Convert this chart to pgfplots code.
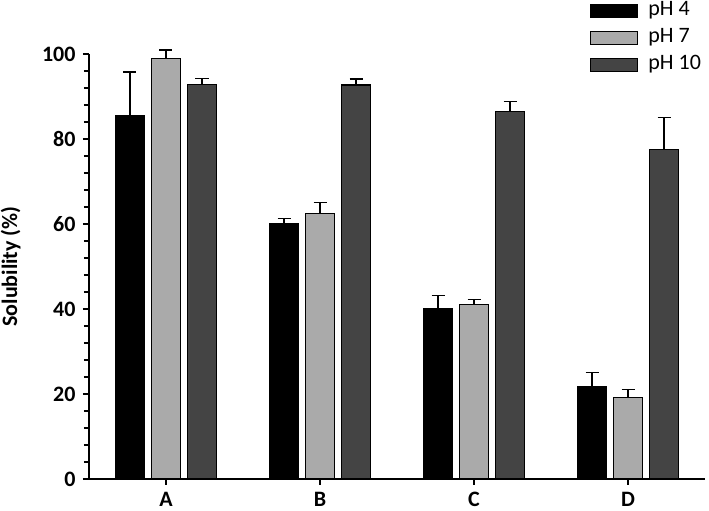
\documentclass[border=0pt]{standalone}
\usepackage{pgfplots}
\pgfplotsset{compat=1.18}
\usepackage{fontspec}
\setmainfont{Carlito}
\definecolor{lightbar}{HTML}{AAAAAA}
\definecolor{darkbar}{HTML}{444444}
\begin{document}
\begin{tikzpicture}
\begin{axis}[
  at={(0,0)}, anchor=south west,
  scale only axis, width=616pt, height=425pt,
  clip=false,
  ybar=7pt, bar width=29pt,
  xmin=-0.5, xmax=3.5, ymin=0, ymax=100,
  axis x line*=bottom, axis y line*=left,
  axis line style={line width=1.2pt, -},
  xtick={0,1,2,3}, xticklabels={A,B,C,D},
  ytick={0,20,40,60,80,100},
  minor y tick num=4,
  tick align=outside,
  major tick length=6pt, minor tick length=5pt,
  tick style={line width=1.1pt, black},
  /pgf/number format/assume math mode=true,
  ticklabel style={font=\fontsize{22}{24}\selectfont\bfseries},
  yticklabel style={xshift=-4pt},
  xticklabel style={yshift=-4pt},
  ylabel={Solubility (\%)},
  ylabel style={font=\fontsize{22}{24}\selectfont\bfseries, at={(axis description cs:-0.127,0.5)}, anchor=center},
  legend style={draw=none, at={(axis description cs:0.8133,1.124)}, anchor=north west,
     font=\fontsize{22}{24}\selectfont, row sep=8pt, inner sep=0pt,
     nodes={inner sep=1pt, text height=13pt, text depth=4pt},
     /tikz/every odd column/.append style={column sep=9pt}},
  legend cell align=left,
  legend image code/.code={\draw[#1, line width=1.2pt] (0pt,-6.5pt) rectangle (47pt,6.5pt);},
  error bars/y dir=plus, error bars/y explicit,
  error bars/error bar style={line width=1.4pt, black},
  error bars/error mark options={rotate=90, mark size=6.5pt, line width=1.4pt, black},
]
\addplot[fill=black, draw=black, line width=1.2pt] coordinates {
  (0,85.6) +- (0,10.2)
  (1,60.0) +- (0,1.3)
  (2,40.2) +- (0,3.0)
  (3,21.8) +- (0,3.3)
};
\addplot[fill=lightbar, draw=black, line width=1.2pt] coordinates {
  (0,99.0) +- (0,1.9)
  (1,62.5) +- (0,2.5)
  (2,41.0) +- (0,1.3)
  (3,19.2) +- (0,1.8)
};
\addplot[fill=darkbar, draw=black, line width=1.2pt] coordinates {
  (0,92.8) +- (0,1.5)
  (1,92.7) +- (0,1.4)
  (2,86.5) +- (0,2.3)
  (3,77.6) +- (0,7.5)
};
\legend{pH 4, pH 7, pH 10}
\end{axis}
\pgfresetboundingbox
\useasboundingbox (-89pt,-32pt) rectangle (620pt,479pt);
\end{tikzpicture}
\end{document}
